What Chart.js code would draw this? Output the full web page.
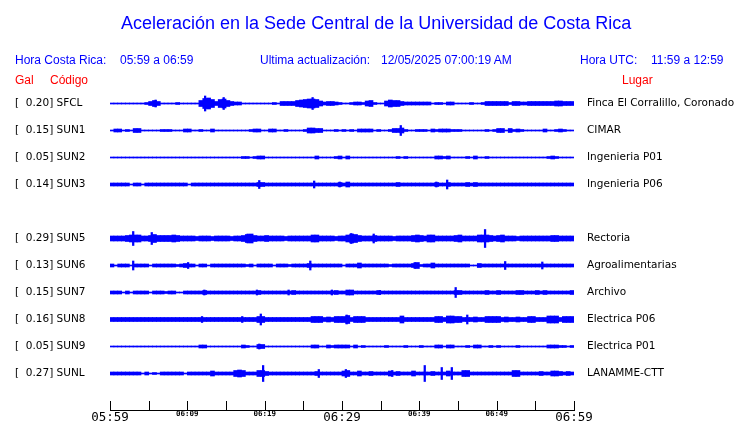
<!DOCTYPE html>
<html>
<head>
<meta charset="utf-8">
<title>Aceleración Sede Central UCR</title>
<script src="https://cdn.jsdelivr.net/npm/chart.js@4.4.0/dist/chart.umd.min.js"></script>
<style>
  html, body { margin: 0; padding: 0; background: #fff; }
  #wrap { position: relative; width: 740px; height: 423px; overflow: hidden; font-family: "Liberation Sans", Arial, sans-serif; }
  #wrap canvas { position: absolute; left: 0; top: 0; }
  .txt { position: absolute; white-space: pre; font-size: 12px; line-height: 14px; color: #0000ff; }
  .red { color: #ff0000; }
  #title { position: absolute; left: 121px; top: 13px; font-size: 18px; line-height: 20px; color: #0000ff; white-space: pre; }
</style>
</head>
<body>
<div id="wrap">
  <canvas id="sismo" width="740" height="423"></canvas>
  <div id="title">Aceleración en la Sede Central de la Universidad de Costa Rica</div>
  <div class="txt" style="left:15px;top:53px">Hora Costa Rica:</div>
  <div class="txt" style="left:120px;top:53px">05:59 a 06:59</div>
  <div class="txt" style="left:260px;top:53px">Ultima actualización:</div>
  <div class="txt" style="left:381px;top:53px">12/05/2025 07:00:19 AM</div>
  <div class="txt" style="left:580px;top:53px">Hora UTC:</div>
  <div class="txt" style="left:651px;top:53px">11:59 a 12:59</div>
  <div class="txt red" style="left:15px;top:73px">Gal</div>
  <div class="txt red" style="left:50px;top:73px">Código</div>
  <div class="txt red" style="left:622px;top:73px">Lugar</div>
</div>
<script>
// estaciones, de arriba hacia abajo
const codes = ['SFCL', 'SUN1', 'SUN2', 'SUN3', 'SUN5', 'SUN6', 'SUN7', 'SUN8', 'SUN9', 'SUNL'];
const peaksGal = [0.20, 0.15, 0.05, 0.14, 0.29, 0.13, 0.15, 0.16, 0.05, 0.27];
const places = ['Finca El Corralillo, Coronado', 'CIMAR', 'Ingenieria P01', 'Ingenieria P06',
  'Rectoria', 'Agroalimentarias', 'Archivo', 'Electrica P06', 'Electrica P01', 'LANAMME-CTT'];

// eje de tiempo (minutos desde 05:59)
const timeLabels = ['05:59', '06:09', '06:19', '06:29', '06:39', '06:49', '06:59'];

// envolvente (semi-amplitud) por tramos de 30 s
const envSFCL = [
  0.5,0.5,0.5,0.5,0.5,0.5,0.5,0.5,0.5,1,
  2,3,2,0.5,0.5,0.5,0.5,1,0.5,0.5,
  0.5,0.5,0.5,3,5,5.5,4,2,4,4.5,
  3,2,1.5,1.5,0.5,0.5,0.5,0.5,0.5,0.5,
  0.5,0.5,1,0.5,2,2,2,2,3,3.5,
  4,4.5,4.5,4,2.5,1.5,2,2,1.5,1,
  0.5,0.5,1,1.5,1.5,1,2.5,3,1,0.5,
  0.5,2.5,3.5,3,3,2,1.5,1.5,1.5,1.5,
  1.5,1.5,1.5,0.5,1,1,0.5,1.5,1.5,0.5,
  0.5,0.5,0.5,1,0.5,0.5,1,2,2,2,
  2,2,2,1,2,2,1.5,1.5,2,2,
  2,2,2,2,2,2.5,2.5,2,2,2
];
const envSUN1 = [
  0.5,1.5,1.5,0.5,1,0.5,2,2,0.5,0.5,
  0.5,0.5,0.5,1,1,1,0.5,0.5,0.5,1.5,
  1.5,0.5,0.5,1,0.5,0.5,1.5,0.5,0.5,0.5,
  0.5,0.5,0.5,0.5,0.5,0.5,1,1.5,1.5,0.5,
  0.5,1.5,1.5,0.5,0.5,1,0.5,0.5,0.5,0.5,
  1,2.5,2.5,2,2,0.5,0.5,0.5,1,0.5,
  1,0.5,1,0.5,1.5,1.5,1.5,1.5,0.5,1,
  0.5,0.5,1,2,2,2.5,1,0.5,0.5,1,
  1,1,0.5,1.5,1,1.5,1.5,1.5,1,1,
  1,0.5,0.5,0.5,0.5,0.5,0.5,1,0.5,1,
  2,2,0.5,2,1,1.5,1,0.5,0.5,0.5,
  0.5,0.5,1.5,0.5,0.5,1,1.5,1,0.5,0.5
];
const envSUN2 = [
  0.5,0.5,0.5,0.5,0.5,0.5,0.5,0.5,0.5,0.5,
  0.5,0.5,0.5,0.5,0.5,0.5,0.5,0.5,0.5,0.5,
  0.5,0.5,0.5,0.5,0.5,0.5,0.5,0.5,0.5,0.5,
  0.5,0.5,0.5,0.5,1,1,0.5,1,1.5,1.5,
  0.5,0.5,0.5,0.5,0.5,0.5,0.5,0.5,0.5,0.5,
  0.5,0.5,0.5,1.5,0.5,0.5,0.5,0.5,1,1.5,
  0.5,1.5,0.5,0.5,0.5,0.5,0.5,0.5,0.5,0.5,
  0.5,0.5,0.5,0.5,1,0.5,1,0.5,0.5,0.5,
  0.5,0.5,0.5,0.5,1.5,1.5,1,1.5,0.5,0.5,
  0.5,0.5,1,0.5,1.5,0.5,0.5,1,0.5,0.5,
  0.5,0.5,0.5,0.5,0.5,0.5,0.5,0.5,0.5,0.5,
  0.5,0.5,0.5,1,1.5,1,0.5,0.5,0.5,0.5
];
const envSUN3 = [
  1.5,1.5,1.5,1.5,1.5,0.5,1.5,1.5,0.5,1.5,
  1.5,1.5,1.5,1.5,1.5,1.5,1.5,1.5,1.5,1.5,
  0.5,1.5,1.5,1.5,1.5,1.5,1.5,1.5,1.5,1.5,
  1.5,1.5,1.5,1.5,1.5,1.5,1.5,1.5,2,2,
  1.5,1.5,1.5,1.5,1.5,1.5,1.5,1.5,1.5,1.5,
  1.5,1.5,1.5,1.5,1.5,1.5,1.5,1.5,1.5,2,
  1.5,2.5,1.5,1.5,1.5,1.5,1.5,1.5,1.5,1.5,
  1.5,1.5,1.5,1.5,2,1.5,1.5,1.5,1.5,1.5,
  1.5,1.5,1.5,1.5,2,1.5,1.5,2,1.5,1.5,
  1.5,1.5,2,1.5,2,1.5,1.5,1.5,1.5,1.5,
  1.5,1.5,1.5,1.5,1.5,1.5,1.5,1.5,1.5,1.5,
  1.5,1.5,1.5,1.5,1.5,1.5,1.5,1.5,1.5,1.5
];
const envSUN5 = [
  2.5,2.5,2.5,2.5,3,3.5,3.5,3.5,2.5,2.5,
  3,4,3,3,3,3,3.5,3,2.5,2.5,
  2.5,2.5,2,2.5,2.5,2.5,2,2.5,2.5,2.5,
  2.5,2,2.5,2.5,3,4,4.5,3,2.5,2.5,
  3,2.5,2.5,2.5,2.5,2,2.5,2.5,2.5,2.5,
  2.5,2.5,3.5,3.5,2.5,2.5,2.5,2.5,2,2.5,
  2.5,3.5,4.5,4,3,2.5,2.5,2.5,3,2.5,
  2.5,2.5,2.5,2,2.5,2.5,2.5,2.5,3,3.5,
  3,2.5,3.5,3.5,2.5,2.5,2.5,2.5,2.5,3,
  3.5,2.5,2.5,2.5,2.5,3.5,3.5,3.5,3,2.5,
  3,3.5,2.5,2.5,2.5,2,2.5,2.5,2.5,2.5,
  2.5,2.5,2.5,2.5,3,3,2.5,2.5,2.5,2.5
];
const envSUN6 = [
  1.5,0.5,1.5,1.5,1.5,0.5,1.5,1.5,1.5,1.5,
  0.5,1.5,1.5,1.5,1.5,1.5,1.5,1,1.5,2,
  1.5,1.5,0.5,1.5,1.5,0.5,1.5,1.5,1.5,1.5,
  1.5,1.5,1.5,1.5,1.5,1,1.5,0.5,1.5,1.5,
  1.5,1.5,0.5,1.5,1.5,1.5,1,1.5,1.5,1.5,
  1.5,2,1.5,1.5,1.5,1.5,1.5,1.5,1.5,1.5,
  0.5,1.5,1.5,1.5,2.5,1.5,1.5,1.5,1.5,1.5,
  1.5,1.5,1,1.5,1.5,1.5,1.5,1.5,2,3,
  1,1.5,1.5,2.5,1.5,1.5,1.5,1.5,1.5,1.5,
  1.5,1.5,1.5,0.5,0.5,2,1.5,1.5,1.5,1.5,
  1.5,1.5,1.5,1.5,1.5,1.5,1.5,1.5,1.5,1.5,
  1.5,1.5,1.5,1.5,1.5,1.5,1.5,1.5,1.5,1.5
];
const envSUN7 = [
  1.5,1.5,1.5,0.5,1.5,0.5,1.5,1.5,1.5,1.5,
  0.5,1.5,1.5,1.5,1,1.5,1.5,0.5,0.5,1.5,
  1.5,1.5,1.5,1.5,2,1.5,1.5,1.5,1.5,1.5,
  1.5,1.5,1.5,1.5,1.5,1.5,1.5,1.5,2,1.5,
  1.5,1.5,1.5,1.5,1.5,1.5,1.5,2,1.5,1.5,
  1.5,1.5,1.5,1.5,1.5,1.5,1.5,1.5,2,1.5,
  1.5,2.5,2.5,1.5,1.5,1.5,1.5,1.5,1.5,2,
  1.5,1.5,1.5,1.5,1.5,1.5,1.5,1.5,1.5,1.5,
  1.5,1.5,1.5,1.5,1.5,1.5,1.5,1.5,1.5,2,
  2,1.5,1.5,1.5,1.5,1.5,1.5,2,1.5,1.5,
  2,1.5,1.5,1.5,1.5,2,2,1.5,1.5,1.5,
  2,1.5,2,1.5,1.5,1.5,1.5,1.5,1.5,2
];
const envSUN8 = [
  2,2,2,2,2,2,2,2,2,2,
  2,2,2,2,2,2,2,2,2,2,
  2,2,2,2,2,2,2,2,2,2,
  2,2,2,2,2,2,2,2,3,3,
  2,2,2,2,2,2,2,2,2,2,
  2,2,3,3,3,2,2.5,2,3,3,
  3,4,2,3,3,3,2,2,2,2,
  2,2,2,2,2,3.5,2,2,2,2,
  2,2,2,2,3,3,2,3.5,3.5,3,
  3,2,2,2,2.5,2,2,3,3,3,
  3,2,2.5,2,2,2.5,2,2,3,3,
  2,2,2,3.5,3.5,3.5,2,3,3,3
];
const envSUN9 = [
  0.5,0.5,0.5,0.5,0.5,0.5,0.5,0.5,0.5,0.5,
  0.5,0.5,0.5,0.5,0.5,0.5,0.5,0.5,0.5,0.5,
  0.5,0.5,0.5,1.5,1.5,0.5,0.5,0.5,0.5,0.5,
  0.5,0.5,0.5,0.5,1.5,1,0.5,0.5,2,2,
  0.5,0.5,0.5,0.5,0.5,0.5,0.5,0.5,0.5,0.5,
  0.5,0.5,1.5,1.5,0.5,0.5,1.5,1,1.5,1.5,
  1.5,1.5,0.5,1.5,0.5,1,0.5,0.5,0.5,0.5,
  0.5,1,0.5,0.5,0.5,0.5,1,0.5,0.5,0.5,
  1,0.5,0.5,0.5,1.5,1.5,0.5,1.5,1.5,0.5,
  0.5,0.5,1,0.5,1.5,1.5,0.5,0.5,1,0.5,
  1,0.5,0.5,0.5,0.5,1,0.5,0.5,0.5,0.5,
  0.5,0.5,0.5,1.5,1.5,1.5,1,1,0.5,1
];
const envSUNL = [
  1.5,1.5,1.5,1.5,1.5,1.5,1.5,1.5,0.5,1.5,
  0.5,1,0.5,1.5,1.5,1.5,1.5,1.5,1.5,0.5,
  1.5,1.5,1.5,1.5,1.5,1.5,2.5,1.5,1.5,1.5,
  1.5,1.5,3,3.5,3,1.5,1.5,1.5,3,3,
  2,1.5,1.5,1.5,1.5,1.5,1.5,1.5,1.5,1.5,
  1.5,1.5,1.5,2,1.5,1.5,1.5,1.5,1.5,1.5,
  2.5,3,1.5,1.5,2.5,1.5,1.5,2,1.5,1.5,
  1.5,1.5,2.5,1.5,2,1.5,1.5,1.5,2.5,1.5,
  1.5,1.5,1.5,2,1.5,1.5,1.5,2.5,1.5,1.5,
  1.5,3,3,1.5,1.5,1.5,1.5,1.5,1.5,1.5,
  1.5,1.5,1.5,1.5,3,3,1.5,1.5,1.5,1.5,
  1.5,2,1.5,1.5,2.5,2.5,2,1.5,2,1.5
];

// picos aislados: [minuto, semi-amplitud]
const spkSFCL = [[5.9, 3.5], [12.3, 7.5], [14.7, 6], [26.2, 6]];
const spkSUN1 = [[37.6, 5]];
const spkSUN2 = [];
const spkSUN3 = [[19.3, 4], [26.4, 3.5], [29.7, 2.5], [42.2, 2.5], [43.6, 4.5]];
const spkSUN5 = [[3.0, 7], [5.4, 6], [17.8, 4.5], [31.2, 5], [34.1, 4.5], [48.5, 9]];
const spkSUN6 = [[3.0, 4.5], [10.1, 3], [25.9, 4.5], [39.4, 3], [51.1, 4], [55.9, 3.5]];
const spkSUN7 = [[12.2, 2.5], [19.0, 2.5], [23.1, 2.5], [28.7, 2.5], [34.9, 2], [44.7, 5]];
const spkSUN8 = [[11.9, 3], [17.1, 3], [19.5, 5.5], [30.6, 4.5], [46.2, 4.5]];
const spkSUN9 = [[19.3, 2.5]];
const spkSUNL = [[19.8, 8], [27.0, 4], [30.5, 4], [36.5, 3], [40.7, 8], [42.9, 6], [44.2, 6]];

const envs = [envSFCL, envSUN1, envSUN2, envSUN3, envSUN5, envSUN6, envSUN7, envSUN8, envSUN9, envSUNL];
const spikes = [spkSFCL, spkSUN1, spkSUN2, spkSUN3, spkSUN5, spkSUN6, spkSUN7, spkSUN8, spkSUN9, spkSUNL];

const BLUE = '#0000ff';
const binMin = 0.5;       // minutos por tramo
const rowGap = 27;        // separacion entre trazas (px = unidades del eje y)
const yMax = 320;

// centro de cada traza; hay un hueco despues de la cuarta
const centers = codes.map((c, i) => 306.5 - rowGap * (i < 4 ? i : i + 1));
const leftLabels = codes.map((c, i) => '[  ' + peaksGal[i].toFixed(2) + '] ' + c);

const datasets = [];
codes.forEach((code, k) => {
  const c = centers[k];
  datasets.push({
    label: code,
    data: envs[k].map((a, i) => ({ x: (i + 0.5) * binMin, y: [c - a, c + a] })),
    backgroundColor: BLUE,
    barThickness: 4,
    grouped: false
  });
  if (spikes[k].length) {
    datasets.push({
      label: code + ' picos',
      data: spikes[k].map(s => ({ x: s[0], y: [c - s[1], c + s[1]] })),
      backgroundColor: BLUE,
      barThickness: 1.6,
      grouped: false
    });
  }
});

// marcas del eje x hacia arriba
const upTicks = {
  id: 'upTicks',
  afterDraw(chart) {
    const { ctx, chartArea, scales: { x } } = chart;
    ctx.save();
    ctx.strokeStyle = '#000';
    ctx.lineWidth = 1;
    x.ticks.forEach(t => {
      const px = Math.round(x.getPixelForValue(t.value)) + 0.5;
      ctx.beginPath();
      ctx.moveTo(px, chartArea.bottom);
      ctx.lineTo(px, chartArea.bottom - 9);
      ctx.stroke();
    });
    ctx.restore();
  }
};

const rowTicks = scale => { scale.ticks = centers.map(v => ({ value: v })); };
const noPad = s => { s.paddingTop = 0; s.paddingBottom = 0; s.paddingLeft = 0; s.paddingRight = 0; };

new Chart(document.getElementById('sismo'), {
  type: 'bar',
  data: { datasets },
  plugins: [upTicks],
  options: {
    responsive: false,
    animation: false,
    layout: { padding: { left: 15, top: 90, right: 0, bottom: 0 } },
    plugins: { legend: { display: false }, tooltip: { enabled: false }, title: { display: false } },
    scales: {
      x: {
        type: 'linear',
        min: 0, max: 60,
        offset: false,
        grid: { display: false, drawTicks: false },
        border: { display: true, color: '#000', width: 1 },
        ticks: {
          stepSize: 5,
          autoSkip: false,
          maxRotation: 0,
          padding: 0,
          color: '#000',
          font: ctx => (ctx.tick && ctx.tick.value % 30 === 0)
            ? { family: 'DejaVu Sans Mono', size: 12.5 }
            : { family: 'DejaVu Sans Mono', size: 7.5, weight: 'bold' },
          callback: v => (v % 10 === 0 ? timeLabels[v / 10] : '')
        },
        afterFit: s => { s.height = 13; noPad(s); }
      },
      y: {
        position: 'left',
        min: 0, max: yMax,
        grid: { display: false, drawTicks: false },
        border: { display: false },
        afterBuildTicks: rowTicks,
        ticks: {
          autoSkip: false,
          crossAlign: 'far',
          padding: 0,
          color: '#000',
          font: { family: 'DejaVu Sans', size: 10.5 },
          callback: (v, i) => leftLabels[i]
        },
        afterFit: s => { s.width = 95; noPad(s); }
      },
      y2: {
        position: 'right',
        min: 0, max: yMax,
        grid: { display: false, drawTicks: false },
        border: { display: false },
        afterBuildTicks: rowTicks,
        ticks: {
          autoSkip: false,
          padding: 13,
          color: '#000',
          font: { family: 'DejaVu Sans', size: 10.5 },
          callback: (v, i) => places[i]
        },
        afterFit: s => { s.width = 166; noPad(s); }
      }
    }
  }
});
</script>
</body>
</html>
